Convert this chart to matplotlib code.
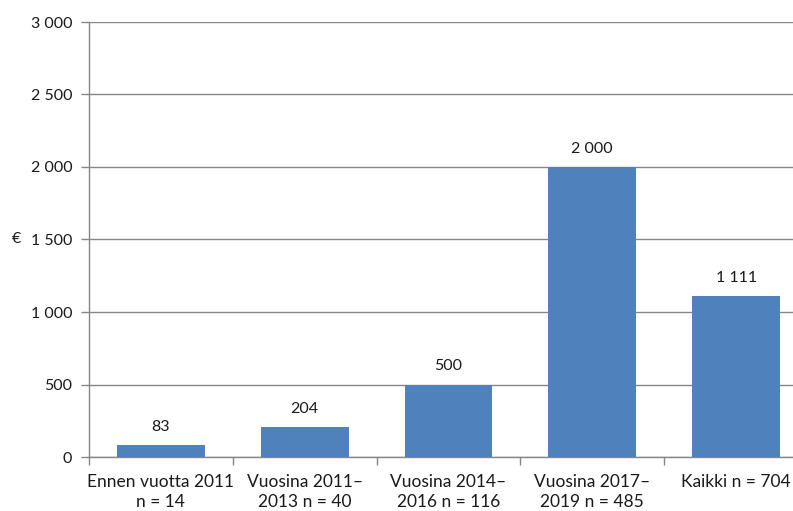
import matplotlib
matplotlib.use('Agg')
import matplotlib.pyplot as plt
from matplotlib.ticker import FuncFormatter, FixedLocator

# Data
categories = ["Ennen vuotta 2011\nn = 14", "Vuosina 2011–\n2013 n = 40",
              "Vuosina 2014–\n2016 n = 116", "Vuosina 2017–\n2019 n = 485",
              "Kaikki n = 704"]
values = [83, 204, 500, 2000, 1111]


def fmt(v):
    return f"{v:,.0f}".replace(",", " ")


plt.rcParams['font.family'] = ['Lato', 'DejaVu Sans']
fig = plt.figure(figsize=(7.93, 5.11), dpi=100)
ax = fig.add_axes([89 / 793, 54 / 511, 719 / 793, 435 / 511])

grid_color = '#868686'
x = list(range(len(values)))
ax.bar(x, values, width=0.61, color='#4F81BD', zorder=3)

for xi, v in zip(x, values):
    ax.annotate(fmt(v), (xi, v), xytext=(0, 8), textcoords='offset points',
                ha='center', va='bottom', fontsize=11.5, color='#1a1a1a')

ax.set_xlim(-0.5, len(values) - 0.5)
ax.set_ylim(0, 3000)
ax.set_yticks(range(0, 3001, 500))
ax.yaxis.set_major_formatter(FuncFormatter(lambda y, _: fmt(y)))
ax.grid(axis='y', color=grid_color, linewidth=1, zorder=0)

ax.set_xticks(x)
ax.set_xticklabels(categories, fontsize=12.5, color='#1a1a1a', linespacing=1.35)
ax.tick_params(axis='x', length=0, pad=12)
ax.xaxis.set_minor_locator(FixedLocator([i - 0.5 for i in range(len(values) + 1)]))
ax.tick_params(axis='x', which='minor', length=6, color=grid_color, width=1)
ax.tick_params(axis='y', length=6, color=grid_color, width=1, labelsize=11.5,
               labelcolor='#1a1a1a', pad=6)

for side in ['top', 'right']:
    ax.spines[side].set_visible(False)
for side in ['left', 'bottom']:
    ax.spines[side].set_color(grid_color)
    ax.spines[side].set_linewidth(1)

fig.text(12 / 793, 1 - 239 / 511, "€", fontsize=11.5, ha='left', va='center',
         color='#1a1a1a')

fig.savefig('out.png', dpi=100, facecolor='white')
